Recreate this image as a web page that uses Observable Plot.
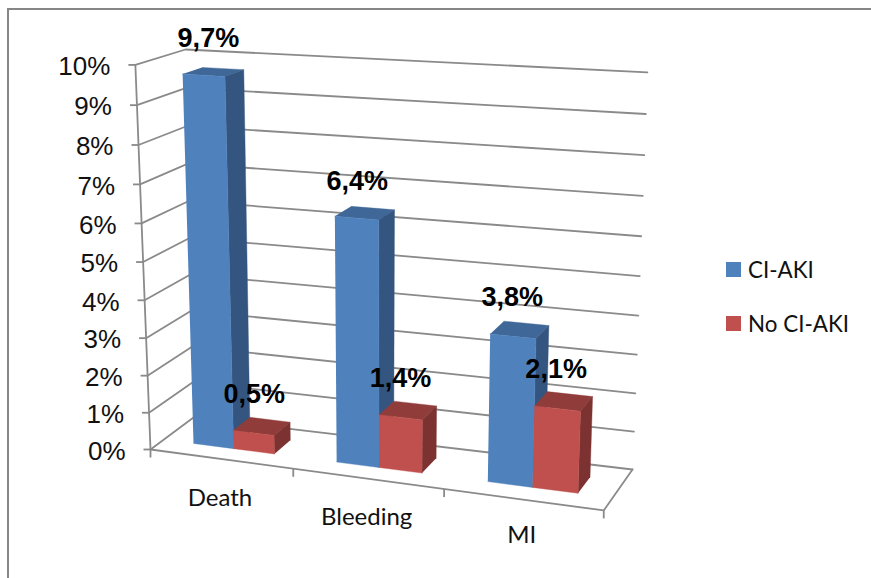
<!DOCTYPE html>
<html>
<head>
<meta charset="utf-8">
<script src="https://cdn.jsdelivr.net/npm/d3@7"></script>
<script src="https://cdn.jsdelivr.net/npm/@observablehq/plot@0.6"></script>
<style>
  html, body { margin: 0; padding: 0; background: #fff; }
  #chart { position: relative; width: 871px; height: 578px; overflow: hidden; }
  #chart svg { display: block; }
  .frame { position: absolute; left: 7px; top: 8px; width: 900px; height: 600px;
           border-top: 2px solid #868686; border-left: 2px solid #868686; }
  .legend { position: absolute; left: 726px; top: 0; font: 22.4px Lato, sans-serif; color: #111; }
  .legend div { position: absolute; left: 0; white-space: nowrap; line-height: 24px; }
  .legend i { position: absolute; left: 0; top: 4px; width: 15px; height: 15px; }
  .legend span { position: absolute; left: 22px; top: 0; }
</style>
</head>
<body>
<div id="chart"><div class="frame"></div></div>
<script>
// Chart values
const categories = ["Death", "Bleeding", "MI"];
const seriesNames = ["CI-AKI", "No CI-AKI"];
const ciAki = [9.7, 6.4, 3.8];
const noCiAki = [0.5, 1.4, 2.1];
const percentTicks = [0, 1, 2, 3, 4, 5, 6, 7, 8, 9, 10];

// Face colours per series: front, side, top
const palette = [
  {front: "#4F81BD", side: "#34557F", top: "#3F6797"},
  {front: "#C0504D", side: "#7C3230", top: "#8F3C3A"}
];

// Perspective camera of the box: back-left-bottom corner, the three box edges
// leaving it, and their homogeneous weights.
const cam = {
  origin: [193, 417], right: [632, 469], up: [185, 49], front: [150, 449],
  wRight: 0.924, wUp: 0.953, wFront: 0.955,
  // extra lean of the front of the box, growing towards the viewer
  leanX: -4.5, leanY: 3.5
};
const maxValue = 10;
const gapWidth = 1.5;   // gap between category clusters, in bar widths
const gapDepth = 1.5;   // gap in front of and behind the bars, in bar depths

// u: along the categories (0..1), value: percent, w: depth (0 front .. 1 back)
function project(u, value, w) {
  const v = value / maxValue, t = 1 - w;
  const {origin: O, right: R, up: U, front: F, wRight: a, wUp: b, wFront: c} = cam;
  const d = 1 + u * (a - 1) + v * (b - 1) + t * (c - 1);
  const [x, y] = [0, 1].map(k =>
    (O[k] + u * (a * R[k] - O[k]) + v * (b * U[k] - O[k]) + t * (c * F[k] - O[k])) / d);
  return [x + cam.leanX * t * (u + v - u * v), y + cam.leanY * t * u];
}
const pt = (u, value, w, group, extra) => {
  const [x, y] = project(u, value, w);
  return {x, y, group, ...extra};
};

// Walls: one polyline per percent tick, front-left to back-left to back-right
const grid = percentTicks.flatMap(p => [
  pt(0, p, 0, "g" + p), pt(0, p, 1, "g" + p), pt(1, p, 1, "g" + p)
]);
// Floor edges and vertical axis
const frameLines = [
  pt(0, 0, 0, "front"), pt(1, 0, 0, "front"), pt(1, 0, 1, "front"),
  pt(0, 0, 0, "axis"), pt(0, maxValue, 0, "axis")
];
const yTicks = percentTicks.map(p => ({...pt(0, p, 0, "t"), p}));
const xTicks = d3.range(categories.length + 1).map(i => pt(i / categories.length, 0, 0, "x"));

// Bars: cluster layout within each category band, faces drawn back to front
const nBars = seriesNames.length;
const band = 1 / categories.length;
const barU = band / (nBars + gapWidth);
const w0 = (gapDepth / 2) / (1 + gapDepth), w1 = 1 - w0;
const faces = [];
const barTops = [];
categories.forEach((cat, i) => {
  [ciAki, noCiAki].forEach((series, s) => {
    const val = series[i];
    const u0 = i * band + barU * (gapWidth / 2 + s), u1 = u0 + barU;
    const col = palette[s], id = `${cat}-${s}`;
    const face = (name, fill, corners) => corners.forEach(c =>
      faces.push(pt(c[0], c[1], c[2], `${id}-${name}`, {fill})));
    face("top", col.top, [[u0, val, w0], [u1, val, w0], [u1, val, w1], [u0, val, w1]]);
    face("side", col.side, [[u1, 0, w0], [u1, val, w0], [u1, val, w1], [u1, 0, w1]]);
    face("front", col.front, [[u0, 0, w0], [u1, 0, w0], [u1, val, w0], [u0, val, w0]]);
    barTops.push({...pt((u0 + u1) / 2, val, 0.5, id), val, i, s});
  });
});

// Value labels sit up and to the left of each bar top
const labelShift = {"0-0": [-5, -33]};
const valueLabels = barTops.map(d => {
  const [sx, sy] = labelShift[`${d.i}-${d.s}`] || [-7.5, -32];
  return {x: d.x + sx, y: d.y + sy, text: String(d.val).replace(".", ",") + "%"};
});

// Category names hang below the floor's front edge; the last one sits a little higher
const catDrop = [39, 39, 36];
const catLabels = categories.map((c, i) => {
  const p = pt((i + 0.5) * band, 0, 0, "c");
  return {...p, y: p.y + catDrop[i], c};
});
const gridColor = "#8A8A8A";

const plot = Plot.plot({
  width: 871, height: 578,
  margin: 0,
  x: {domain: [0, 871], range: [0, 871], axis: null},
  y: {domain: [0, 578], range: [0, 578], axis: null},
  color: {type: "identity"},
  style: {background: "transparent", overflow: "visible"},
  marks: [
    Plot.line(grid, {x: "x", y: "y", z: "group", stroke: gridColor, strokeWidth: 1.8}),
    Plot.line(frameLines, {x: "x", y: "y", z: "group", stroke: gridColor, strokeWidth: 1.8}),
    Plot.link(yTicks, {x1: d => d.x - 7, x2: "x", y1: "y", y2: "y", stroke: gridColor, strokeWidth: 1.8}),
    Plot.link(xTicks, {x1: "x", x2: "x", y1: "y", y2: d => d.y + 8, stroke: gridColor, strokeWidth: 1.8}),
    Plot.line(faces, {x: "x", y: "y", z: "group", fill: "fill", stroke: "fill", strokeWidth: 0.4}),
    Plot.text(yTicks, {x: "x", y: "y", text: d => d.p + "%", textAnchor: "end", dx: -25, dy: 2,
      fontSize: 26, fontFamily: "Liberation Sans, Arial, sans-serif", fill: "#111"}),
    Plot.text(catLabels, {x: "x", y: "y", text: "c", dx: -1,
      fontSize: 24, fontFamily: "Lato, sans-serif", fill: "#111"}),
    Plot.text(valueLabels, {x: "x", y: "y", text: "text",
      fontSize: 27, fontWeight: "bold", fontFamily: "Liberation Sans, Arial, sans-serif", fill: "#000"})
  ]
});
const chart = document.getElementById("chart");
chart.appendChild(plot);

// Legend
const legend = document.createElement("div");
legend.className = "legend";
seriesNames.forEach((name, i) => {
  const row = document.createElement("div");
  row.style.top = (258 + i * 54) + "px";
  const sw = document.createElement("i");
  sw.style.background = palette[i].front;
  const label = document.createElement("span");
  label.textContent = name;
  row.append(sw, label);
  legend.appendChild(row);
});
chart.appendChild(legend);
</script>
</body>
</html>
